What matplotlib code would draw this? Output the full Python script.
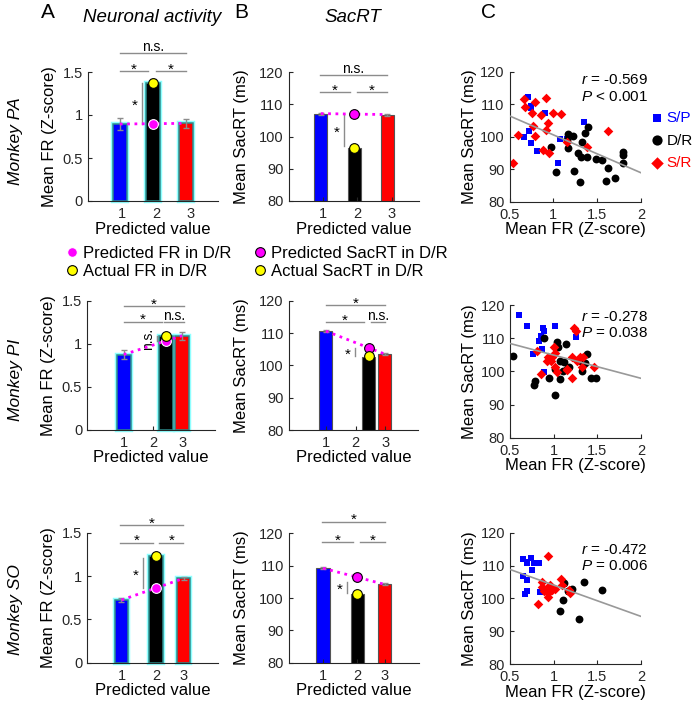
import numpy as np
import matplotlib
matplotlib.use('Agg')
import matplotlib.pyplot as plt

plt.rcParams['font.family'] = ['Liberation Sans', 'DejaVu Sans']
plt.rcParams['mathtext.fontset'] = 'custom'
plt.rcParams['mathtext.rm'] = 'Liberation Sans'
plt.rcParams['mathtext.it'] = 'Liberation Sans:italic'

W, H = 699, 703

# ---------------- data ----------------
monkeys = ['PA', 'PI', 'SO']
tick_labels = ['1', '2', '3']
bar_colors = ['#0000ff', '#000000', '#ff0000']

# bar positions (S/P, D/R, S/R) and tick positions on "Predicted value"
bar_x_pa = [0.94, 1.91, 2.87]
bar_x_pi = [1.0, 2.44, 2.98]
bar_x_so = [1.0, 2.0, 2.8]
tick_x_pa = [1, 2, 3]
tick_x_pi = [1, 2, 3]
tick_x_so = [1, 2, 2.8]

# neuronal activity (z-score)
fr_pa = [0.895, 1.375, 0.903]
fr_err_pa = [0.065, 0.04, 0.05]
fr_pi = [0.875, 1.09, 1.095]
fr_err_pi = [0.05, 0.02, 0.045]
fr_so = [0.725, 1.23, 0.975]
fr_err_so = [0.02, 0.015, 0.02]
pred_fr = [0.895, 1.036, 0.864]
act_fr = [1.375, 1.095, 1.23]

# saccadic reaction time (ms)
rt_pa = [107.1, 96.5, 106.8]
rt_err_pa = [0.3, 0.3, 0.3]
rt_pi = [110.6, 102.7, 103.5]
rt_err_pi = [0.3, 0.3, 0.4]
rt_so = [109.2, 101.2, 104.2]
rt_err_so = [0.3, 0.3, 0.3]
pred_rt = [107.0, 105.5, 106.4]
act_rt = [96.5, 102.9, 101.3]

# scatter: mean FR vs mean SacRT per neuron
sp_fr_pa = [0.71, 0.74, 0.75, 0.90, 1.35, 0.72, 0.66, 0.75, 0.81, 1.08, 1.16, 1.05]
sp_rt_pa = [112.1, 109.3, 108.7, 107.4, 104.6, 101.9, 100.0, 98.0, 95.6, 99.3, 99.3, 91.8]
dr_fr_pa = [0.97, 1.03, 1.17, 1.22, 1.16, 1.17, 1.24, 1.30, 1.28, 1.31, 1.38,
            1.33, 1.36, 1.40, 1.49, 1.56, 1.62, 1.60, 1.70, 1.79, 1.79, 1.79]
dr_rt_pa = [96.7, 89.0, 100.7, 100.3, 99.0, 96.4, 89.5, 86.0, 95.1, 93.9, 93.9,
            98.5, 101.0, 103.1, 93.1, 92.8, 90.3, 86.5, 87.2, 95.4, 94.4, 91.8]
sr_fr_pa = [0.67, 0.79, 0.92, 0.68, 0.76, 0.86, 1.00, 1.09, 0.94, 0.77, 0.92,
            0.60, 0.79, 0.88, 0.95, 0.54, 1.16, 1.38, 1.62]
sr_rt_pa = [111.5, 110.8, 111.8, 109.2, 107.4, 106.7, 107.2, 107.0, 104.3, 103.3, 102.1,
            100.5, 100.2, 95.9, 94.9, 92.0, 98.5, 96.7, 101.9]

sp_fr_pi = [0.60, 0.70, 0.88, 0.89, 1.01, 0.86, 0.83, 0.76, 0.87, 0.89, 1.25]
sp_rt_pi = [117.0, 113.8, 113.1, 112.3, 113.8, 110.8, 109.0, 105.2, 106.8, 99.8, 110.5]
dr_fr_pi = [0.53, 0.79, 0.78, 0.95, 1.02, 1.04, 1.05, 1.14, 1.07, 1.12, 1.15,
            1.17, 1.07, 1.32, 1.32, 1.36, 1.38, 1.43, 1.48, 0.89, 1.02, 1.11]
dr_rt_pi = [104.5, 97.1, 95.9, 98.1, 92.9, 108.7, 107.2, 108.2, 103.2, 102.7, 100.7,
            101.4, 97.6, 100.2, 102.7, 102.4, 105.2, 98.1, 97.9, 110.2, 100.7, 100.2]
sr_fr_pi = [0.81, 0.86, 0.93, 0.97, 1.00, 1.02, 1.01, 1.04, 1.15, 1.21, 1.23,
            1.25, 1.27, 1.30, 1.33, 1.46, 0.98, 1.15, 1.21, 1.34, 0.92]
sr_rt_pi = [106.2, 99.2, 104.2, 103.2, 107.2, 105.4, 101.2, 99.9, 100.4, 97.9, 113.0,
            112.1, 103.2, 104.2, 101.4, 101.2, 104.2, 100.7, 104.2, 104.2, 103.0]

sp_fr_so = [0.65, 0.74, 0.69, 0.77, 0.83, 0.75, 0.65, 0.69, 0.70, 0.67, 0.84, 0.70]
sp_rt_so = [111.9, 112.2, 110.7, 110.7, 110.9, 108.6, 106.8, 105.6, 102.3, 101.3, 102.0, 111.0]
dr_fr_so = [1.12, 1.21, 1.16, 1.35, 1.55, 1.11, 1.07, 1.29]
dr_rt_so = [104.8, 103.0, 102.3, 105.1, 102.5, 99.5, 96.1, 93.6]
sr_fr_so = [0.93, 0.87, 0.82, 0.91, 0.94, 0.93, 0.98, 1.02, 0.96, 1.08, 1.09, 1.17, 1.19, 0.89, 0.87]
sr_rt_so = [112.9, 105.1, 98.3, 103.0, 101.5, 100.5, 102.5, 102.7, 104.1, 105.8, 104.1,
            102.5, 101.7, 102.3, 103.5]

fit_x = [0.5, 2.0]
fit_pa = [106.4, 88.9]
fit_pi = [108.4, 97.9]
fit_so = [108.8, 94.5]
r_vals = ['-0.569', '-0.278', '-0.472']
p_vals = ['< 0.001', '= 0.038', '= 0.006']

# significance brackets: (x0, x1, y, label)
sig_fr = [
    [(0.95, 2.87, 1.72, 'n.s.'), (0.95, 1.77, 1.51, '*'), (2.0, 2.87, 1.51, '*')],
    [(1.0, 3.03, 1.44, '*'), (1.0, 2.31, 1.26, '*'), (2.38, 3.03, 1.26, 'n.s.')],
    [(0.96, 2.79, 1.59, '*'), (0.96, 1.9, 1.39, '*'), (2.1, 2.79, 1.39, '*')],
]
sig_rt = [
    [(0.92, 2.86, 119.1, 'n.s.'), (0.92, 1.79, 113.9, '*'), (1.99, 2.86, 113.9, '*')],
    [(1.0, 3.0, 118.6, '*'), (1.0, 2.28, 113.4, '*'), (2.51, 3.0, 113.4, 'n.s.')],
    [(0.98, 2.81, 123.6, '*'), (0.98, 1.88, 117.2, '*'), (2.09, 2.81, 117.2, '*')],
]
# predicted-vs-actual comparison: (x, y0, y1, label)
vsig_fr = [(1.58, 0.9, 1.37, '*'), (2.12, 1.03, 1.09, 'n.s.'), (1.61, 0.86, 1.21, '*')]
vsig_rt = [(1.62, 97.0, 107.0, '*'), (1.97, 103.0, 105.3, '*'), (1.70, 101.6, 105.0, '*')]

# ---------------- layout (pixels: left, top, right, bottom) ----------------
pos_a = [(87.5, 72, 218, 201), (87, 301, 215, 429.5), (87, 533, 218, 662.7)]
pos_b = [(288.5, 72, 419, 201), (288.7, 300.7, 418, 430), (288.7, 533.3, 419, 662.7)]
pos_c = [(509.5, 71.7, 641, 201.7), (510, 305, 641, 437.7), (510, 532.7, 641, 664)]
xlim_bar = [(0, 3.8), (-0.25, 4.1), (0, 3.8)]
stat_y = [(0.936, 0.808), (0.912, 0.791), (0.868, 0.746)]
monkey_y = [141, 380, 610]

AX_COL = '#262626'
fig = plt.figure(figsize=(W / 100, H / 100), dpi=100)


def px_axes(p):
    l, t, r, b = p
    return fig.add_axes([l / W, 1 - b / H, (r - l) / W, (b - t) / H])


def style(ax, ylab_off, xlab='Predicted value', ylab=''):
    for s in ['top', 'right']:
        ax.spines[s].set_visible(False)
    for s in ['left', 'bottom']:
        ax.spines[s].set_color(AX_COL)
        ax.spines[s].set_linewidth(0.8)
    ax.tick_params(direction='in', length=3, width=0.8, colors=AX_COL, labelsize=10.5)
    ax.tick_params(axis='x', pad=4.5)
    ax.set_xlabel(xlab, fontsize=12, color='black')
    ax.set_ylabel(ylab, fontsize=12, color='black')
    bb = ax.get_position()
    wpx, hpx = bb.width * W, bb.height * H
    ax.yaxis.set_label_coords(-(ylab_off - 9.3) / wpx, 0.5)
    ax.xaxis.set_label_coords(0.5, -20.5 / hpx)


def draw_sig(ax, sig, vsig):
    for x0, x1, y, lab in sig:
        ax.plot([x0, x1], [y, y], color='#8c8c8c', lw=1, clip_on=False)
        if lab == '*':
            ax.annotate('*', ((x0 + x1) / 2, y), xytext=(0, 1), textcoords='offset points',
                        ha='center', va='center', fontsize=11, annotation_clip=False)
        else:
            ax.annotate(lab, ((x0 + x1) / 2, y), xytext=(0, -1), textcoords='offset points',
                        ha='center', va='bottom', fontsize=10, annotation_clip=False)
    x, y0, y1, lab = vsig
    ax.plot([x, x], [y0, y1], color='#8c8c8c', lw=1, clip_on=False)
    if lab == '*':
        ax.annotate('*', (x, (y0 + y1) / 2), xytext=(-5, -2), textcoords='offset points',
                    ha='center', va='center', fontsize=11, annotation_clip=False)
    else:
        ax.annotate(lab, (x, (y0 + y1) / 2), xytext=(-6, 0), textcoords='offset points',
                    ha='center', va='center', rotation=90, fontsize=10, annotation_clip=False)


rows = [
    (bar_x_pa, tick_x_pa, fr_pa, fr_err_pa, rt_pa, rt_err_pa,
     sp_fr_pa, sp_rt_pa, dr_fr_pa, dr_rt_pa, sr_fr_pa, sr_rt_pa, fit_pa),
    (bar_x_pi, tick_x_pi, fr_pi, fr_err_pi, rt_pi, rt_err_pi,
     sp_fr_pi, sp_rt_pi, dr_fr_pi, dr_rt_pi, sr_fr_pi, sr_rt_pi, fit_pi),
    (bar_x_so, tick_x_so, fr_so, fr_err_so, rt_so, rt_err_so,
     sp_fr_so, sp_rt_so, dr_fr_so, dr_rt_so, sr_fr_so, sr_rt_so, fit_so),
]

for i, row in enumerate(rows):
    (bx, tx, fr, fr_err, rt, rt_err,
     spx, spy, drx, dry, srx, sry, fit) = row
    bw = 0.4 if i != 1 else 0.46

    # ---- A: neuronal activity ----
    ax = px_axes(pos_a[i])
    ax.bar(bx, fr, bw, color=bar_colors, edgecolor='#8fffff', linewidth=3.2, clip_on=False, zorder=1)
    ax.bar(bx, fr, bw, color=bar_colors, edgecolor='#2c8c8c', linewidth=1.1, clip_on=False, zorder=2)
    ax.errorbar(bx, fr, yerr=fr_err, fmt='none', ecolor='#8c8c8c', elinewidth=1, capsize=2.5, zorder=3)
    ax.plot([bx[0], bx[2]], [fr[0], fr[2]], ':', color='#ff00ff', lw=2, zorder=4)
    h_pf, = ax.plot(bx[1], pred_fr[i], 'o', ms=7, mfc='#ff00ff', mec='white', mew=0.8, zorder=5,
                    label='Predicted FR in D/R')
    h_af, = ax.plot(bx[1], act_fr[i], 'o', ms=7, mfc='#ffff00', mec='black', mew=0.8, zorder=6,
                    label='Actual FR in D/R')
    ax.set_xlim(*xlim_bar[i])
    ax.set_ylim(0, 1.5)
    ax.set_xticks(tx, tick_labels)
    ax.set_yticks([0, 0.5, 1, 1.5], ['0', '0.5', '1', '1.5'])
    style(ax, 40, ylab='Mean FR (Z-score)')
    draw_sig(ax, sig_fr[i], vsig_fr[i])
    if i == 0:
        ax.legend(handles=[h_pf, h_af], loc='center left', frameon=False, fontsize=12,
                  bbox_to_anchor=(64 / W, 1 - 262.5 / H), bbox_transform=fig.transFigure,
                  borderpad=0, borderaxespad=0, handlelength=1.0, handletextpad=0.15,
                  labelspacing=0.15)

    # ---- B: SacRT ----
    ax = px_axes(pos_b[i])
    ax.bar(bx, rt, bw - 0.02, color=bar_colors, edgecolor='#555555', linewidth=0.8, zorder=1)
    ax.errorbar(bx, rt, yerr=rt_err, fmt='none', ecolor='#8c8c8c', elinewidth=1, capsize=2.5, zorder=3)
    ax.plot([bx[0], bx[2]], [rt[0], rt[2]], ':', color='#ff00ff', lw=2, zorder=4)
    h_pr, = ax.plot(bx[1], pred_rt[i], 'o', ms=7, mfc='#ff00ff', mec='black', mew=0.8, zorder=5,
                    label='Predicted SacRT in D/R')
    h_ar, = ax.plot(bx[1], act_rt[i], 'o', ms=7, mfc='#ffff00', mec='black', mew=0.8, zorder=6,
                    label='Actual SacRT in D/R')
    ax.set_xlim(*xlim_bar[i])
    ax.set_ylim(80, 120)
    ax.set_xticks(tx, tick_labels)
    ax.set_yticks([80, 90, 100, 110, 120])
    style(ax, 49, ylab='Mean SacRT (ms)')
    draw_sig(ax, sig_rt[i], vsig_rt[i])
    if i == 0:
        ax.legend(handles=[h_pr, h_ar], loc='center left', frameon=False, fontsize=12,
                  bbox_to_anchor=(252 / W, 1 - 262.5 / H), bbox_transform=fig.transFigure,
                  borderpad=0, borderaxespad=0, handlelength=1.0, handletextpad=0.15,
                  labelspacing=0.15)

    # ---- C: scatter ----
    ax = px_axes(pos_c[i])
    h_sp = ax.scatter(spx, spy, s=24, marker='s', color='#0000ff', linewidths=0, zorder=2, label='S/P')
    h_dr = ax.scatter(drx, dry, s=32, marker='o', color='black', linewidths=0, zorder=2, label='D/R')
    h_sr = ax.scatter(srx, sry, s=24, marker='D', color='#ff0000', linewidths=0, zorder=2, label='S/R')
    ax.plot(fit_x, fit, color='#999999', lw=1.2, zorder=3)
    ax.set_xlim(0.5, 2)
    ax.set_ylim(80, 120)
    ax.set_xticks([0.5, 1, 1.5, 2], ['0.5', '1', '1.5', '2'])
    ax.set_yticks([80, 90, 100, 110, 120])
    style(ax, 42, xlab='Mean FR (Z-score)', ylab='Mean SacRT (ms)')
    ax.text(1.055, stat_y[i][0], '$r$ = ' + r_vals[i], transform=ax.transAxes,
            ha='right', va='center', fontsize=11)
    ax.text(1.055, stat_y[i][1], '$P$ ' + p_vals[i], transform=ax.transAxes,
            ha='right', va='center', fontsize=11)
    if i == 0:
        leg = ax.legend(handles=[h_sp, h_dr, h_sr], loc='center left', frameon=False, fontsize=11,
                        bbox_to_anchor=(651 / W, 1 - 140.5 / H), bbox_transform=fig.transFigure,
                        borderpad=0, borderaxespad=0, handlelength=0.8, handletextpad=0.2,
                        labelspacing=0.55, scatterpoints=1, markerscale=1.3)
        for t, c in zip(leg.get_texts(), ['#0000ff', 'black', '#ff0000']):
            t.set_color(c)

    fig.text(16 / W, 1 - monkey_y[i] / H, 'Monkey ' + monkeys[i], rotation=90,
             ha='center', va='center', fontsize=12.5, style='italic')

fig.text(152 / W, 1 - 18 / H, 'Neuronal activity', ha='center', va='center', fontsize=13.5, style='italic')
fig.text(353 / W, 1 - 18 / H, 'SacRT', ha='center', va='center', fontsize=13.5, style='italic')
for lab, x in zip(['A', 'B', 'C'], [47.5, 241.5, 488]):
    fig.text(x / W, 1 - 12.5 / H, lab, ha='center', va='center', fontsize=15)

fig.savefig('out.png', dpi=100)
